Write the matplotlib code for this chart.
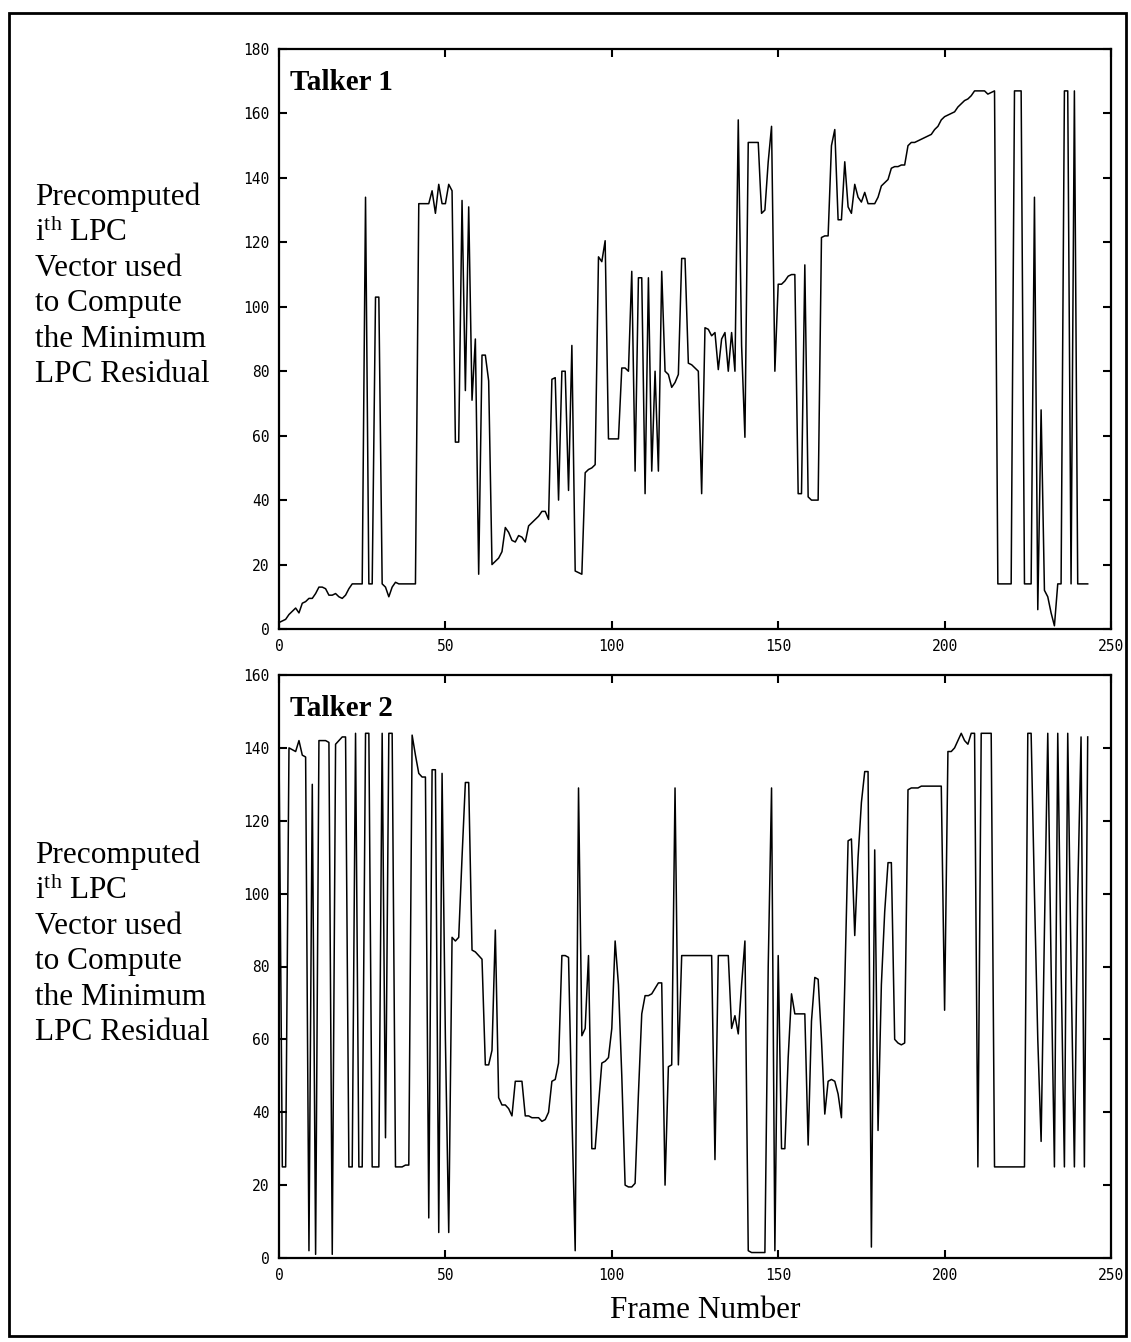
import matplotlib
matplotlib.use('Agg')
import matplotlib.pyplot as plt
from matplotlib.patches import Rectangle

# --- data: index of the precomputed LPC vector per frame ---
talker1_value = [
    2, 2.5, 3, 4.5, 5.5, 6.5, 5, 8, 8.5, 9.5,
    9.5, 11, 13, 13, 12.5, 10.5, 10.5, 11, 10, 9.5,
    10.5, 12.5, 14, 14, 14, 14, 134, 14, 14, 103,
    103, 14, 13, 10, 13, 14.5, 14, 14, 14, 14,
    14, 14, 132, 132, 132, 132, 136, 129, 138, 132,
    132, 138, 136, 58, 58, 133, 74, 131, 71, 90,
    17, 85, 85, 77, 20, 21, 22, 24, 31.5, 30,
    27.5, 27, 29, 28.5, 27, 32, 33, 34, 35, 36.5,
    36.5, 34, 77.5, 78, 40, 80, 80, 43, 88, 18,
    17.5, 17, 48.5, 49.5, 50, 51, 115.5, 114, 120.5, 59,
    59, 59, 59, 81, 81, 80, 111, 49, 109, 109,
    42, 109, 49, 80, 49, 111, 80, 79, 75, 76.5,
    79, 115, 115, 82.5, 82, 81, 80, 42, 93.5, 93,
    91, 92, 80.5, 90, 92, 80, 92, 80, 158, 88,
    59.5, 151, 151, 151, 151, 129, 130, 145, 156, 80,
    107, 107, 108, 109.5, 110, 110, 42, 42, 113, 41,
    40, 40, 40, 121.5, 122, 122, 150, 155, 127, 127,
    145, 131, 129, 138, 134, 132.5, 135.5, 132, 132, 132,
    134, 137.5, 138.5, 139.5, 143, 143.5, 143.5, 144, 144, 150,
    151, 151, 151.5, 152, 152.5, 153, 153.5, 155, 156, 158,
    159, 159.5, 160, 160.5, 162, 163, 164, 164.5, 165.5, 167,
    167, 167, 167, 166, 166.5, 167, 14, 14, 14, 14,
    14, 167, 167, 167, 14, 14, 14, 134, 6, 68,
    12, 10, 5, 1, 14, 14, 167, 167, 14, 167,
    14, 14, 14, 14,
]
talker1_frame = list(range(len(talker1_value)))

talker2_value = [
    140, 25, 25, 140, 139.5, 139, 142, 138, 137.5, 2,
    130, 1, 142, 142, 142, 141.5, 1, 141, 142, 143,
    143, 25, 25, 144, 25, 25, 144, 144, 25, 25,
    25, 144, 33, 144, 144, 25, 25, 25, 25.5, 25.5,
    143.5, 138, 133, 132, 132, 11, 134, 134, 7, 133,
    60, 7, 88, 87, 88, 110, 130.5, 130.5, 84.5, 84,
    83, 82, 53, 53, 57, 90, 44, 42, 42, 41,
    39, 48.5, 48.5, 48.5, 39, 39, 38.5, 38.5, 38.5, 37.5,
    38, 40, 48.5, 49, 53.5, 83, 83, 82.5, 40, 2,
    129, 61, 63, 83, 30, 30, 42, 53.5, 54, 55,
    63, 87, 75, 50, 20, 19.5, 19.5, 20.5, 45, 67,
    72, 72, 72.5, 74, 75.5, 75.5, 20, 52.5, 53, 129,
    53, 83, 83, 83, 83, 83, 83, 83, 83, 83,
    83, 27, 83, 83, 83, 83, 63, 66.5, 61.5, 75,
    87, 2, 1.5, 1.5, 1.5, 1.5, 1.5, 80, 129, 2,
    83, 30, 30, 55, 72.5, 67, 67, 67, 67, 31,
    65, 77, 76.5, 60, 39.5, 48.5, 49, 48.5, 45, 38.5,
    75, 114.5, 115, 88.5, 110, 125, 133.5, 133.5, 3, 112,
    35, 75, 95, 108.5, 108.5, 60, 59, 58.5, 59, 128.5,
    129, 129, 129, 129.5, 129.5, 129.5, 129.5, 129.5, 129.5, 129.5,
    68, 139, 139, 140, 142, 144, 142, 141, 144, 144,
    25, 144, 144, 144, 144, 25, 25, 25, 25, 25,
    25, 25, 25, 25, 25, 144, 144, 100, 60, 32,
    90, 144, 80, 25, 144, 80, 25, 144, 80, 25,
    100, 143, 25, 143,
]
talker2_frame = list(range(len(talker2_value)))

x_ticks = [0, 50, 100, 150, 200, 250]
y1_ticks = [0, 20, 40, 60, 80, 100, 120, 140, 160, 180]
y2_ticks = [0, 20, 40, 60, 80, 100, 120, 140, 160]

ylabel_lines = ['Precomputed', r'i$^{\mathrm{th}}$ LPC', 'Vector used',
                'to Compute', 'the Minimum', 'LPC Residual']

# --- style ---
plt.rcParams['font.family'] = ['Liberation Serif', 'DejaVu Serif']
plt.rcParams['mathtext.fontset'] = 'custom'
plt.rcParams['mathtext.rm'] = 'Liberation Serif'
plt.rcParams['mathtext.it'] = 'Liberation Serif:italic'

W, H = 1131, 1342
fig = plt.figure(figsize=(W / 100, H / 100), dpi=100)

# outer frame
fig.patches.append(Rectangle((9 / W, 1 - 1336 / H), (1126 - 9) / W, (1336 - 13) / H,
                             transform=fig.transFigure, fill=False,
                             edgecolor='black', linewidth=2.0))


def make_axes(rect, frames, values, yticks, ymax, title):
    ax = fig.add_axes(rect)
    ax.plot(frames, values, color='black', linewidth=1.1)
    ax.set_xlim(0, 250)
    ax.set_ylim(0, ymax)
    ax.set_xticks(x_ticks)
    ax.set_yticks(yticks)
    ax.tick_params(direction='in', length=6, width=1.5, top=True, right=True,
                   labelsize=10.5, pad=7)
    for lbl in ax.get_xticklabels() + ax.get_yticklabels():
        lbl.set_family('DejaVu Sans Mono')
    for sp in ax.spines.values():
        sp.set_linewidth(1.6)
    ax.text(0.013, 0.965, title, transform=ax.transAxes, ha='left', va='top',
            fontsize=21, fontweight='bold')
    return ax


ax1 = make_axes([279 / W, 1 - 629 / H, (1111 - 279) / W, (629 - 49) / H],
                talker1_frame, talker1_value, y1_ticks, 180, 'Talker 1')
ax2 = make_axes([279 / W, 1 - 1258 / H, (1111 - 279) / W, (1258 - 675) / H],
                talker2_frame, talker2_value, y2_ticks, 160, 'Talker 2')

# multi-line y labels, one line at a time
for y0 in (197, 855):
    for i, line in enumerate(ylabel_lines):
        fig.text(35 / W, 1 - (y0 + i * 35.6) / H, line, ha='left', va='center',
                 fontsize=22.5)

fig.text(705 / W, 1 - 1310 / H, 'Frame Number', ha='center', va='center',
         fontsize=22.5)

fig.savefig('out.png', dpi=100)
plt.close(fig)
